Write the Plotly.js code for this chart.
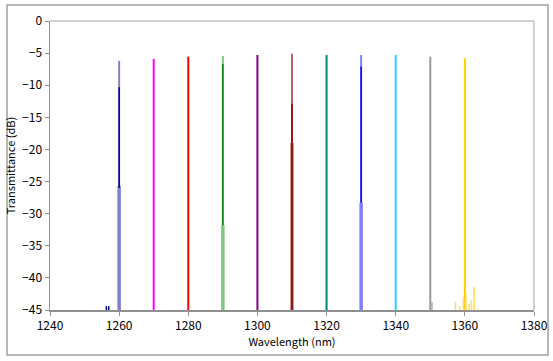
<!DOCTYPE html>
<html><head><meta charset="utf-8">
<script src="https://cdn.plot.ly/plotly-3.0.1.min.js"></script>
<style>html,body{margin:0;padding:0;background:#fff}#chart{width:553px;height:361px}</style>
</head><body><div id="chart"></div>
<script>
// ---- data ----
const channels = [1260, 1270, 1280, 1290, 1300, 1310, 1320, 1330, 1340, 1350, 1360];
const peaks    = [-6.2, -5.9, -5.55, -5.45, -5.3, -5.1, -5.3, -5.3, -5.3, -5.55, -5.8];
const floorVal = -45;
// darker core segments (channel, top, bottom)
const coreChannels = [1260, 1290, 1310, 1330];
const coreTop      = [-10.3, -6.7, -12.9, -7.1];
const coreBottom   = [-26.0, -31.8, -45, -28.3];
// wider pale base segments (channel, top)
const baseChannels = [1260, 1290, 1310, 1330];
const baseTop      = [-25.7, -31.8, -19.0, -28.3];
// small spurious spikes
const spikeX_1260 = [1256.3, 1257.0];
const spikeY_1260 = [-44.4, -44.4];
const spikeX_1350 = [1350.5];
const spikeY_1350 = [-43.8];
const spikeX_1360 = [1357.3, 1358.5, 1359.6, 1360.3, 1361.2, 1361.9, 1362.7, 1363.9];
const spikeY_1360 = [-43.7, -44.4, -43.0, -42.4, -44.0, -43.4, -41.4, -44.8];
const xTicks = [1240, 1260, 1280, 1300, 1320, 1340, 1360, 1380];
const yTicks = [0, -5, -10, -15, -20, -25, -30, -35, -40, -45];

// ---- styles ----
const mainColors = ['#8080c8', '#ff00ff', '#ff0000', '#80c880', '#800080', '#c06060', '#008080', '#8080ff', '#33ccff', '#999999', '#ffcc00'];
const coreColors = {1260: '#000080', 1290: '#008000', 1310: '#800000', 1330: '#0000ff'};
const baseColors = {1260: '#8080c8', 1290: '#80c880', 1310: '#c07070', 1330: '#8080ff'};

const traces = [];
channels.forEach((w, i) => {
  traces.push({x: [w, w], y: [floorVal, peaks[i]], mode: 'lines', type: 'scatter',
    line: {color: mainColors[i], width: 2}, hoverinfo: 'skip', showlegend: false});
});
baseChannels.forEach((w, i) => {
  traces.push({x: [w, w], y: [floorVal, baseTop[i]], mode: 'lines', type: 'scatter',
    line: {color: baseColors[w], width: 3.5}, hoverinfo: 'skip', showlegend: false});
});
coreChannels.forEach((w, i) => {
  traces.push({x: [w, w], y: [coreBottom[i], coreTop[i]], mode: 'lines', type: 'scatter',
    line: {color: coreColors[w], width: 1.5}, hoverinfo: 'skip', showlegend: false});
});
function spikes(xs, ys, color) {
  const X = [], Y = [];
  xs.forEach((x, i) => { X.push(x, x, null); Y.push(floorVal, ys[i], null); });
  traces.push({x: X, y: Y, mode: 'lines', type: 'scatter', line: {color: color, width: 1.5},
    hoverinfo: 'skip', showlegend: false, connectgaps: false});
}
spikes(spikeX_1260, spikeY_1260, '#000080');
spikes(spikeX_1350, spikeY_1350, '#b0b0b0');
spikes(spikeX_1360, spikeY_1360, '#ffd966');

const font = {family: '"Noto Sans CJK JP", "DejaVu Sans", sans-serif', size: 12, color: '#000'};
const layout = {
  width: 553, height: 361,
  margin: {l: 50, r: 19, t: 21, b: 51, pad: 0},
  paper_bgcolor: '#fff', plot_bgcolor: '#fff',
  font: font,
  showlegend: false,
  xaxis: {range: [1240, 1380], tickvals: xTicks, ticktext: xTicks.map(String),
    showgrid: false, zeroline: false, showline: true, linecolor: '#909090', linewidth: 1.5,
    ticks: 'outside', ticklen: 4, tickcolor: '#909090', tickfont: {size: 12},
    title: {text: 'Wavelength (nm)', font: {size: 11}, standoff: 6}},
  yaxis: {range: [-45, 0], tickvals: yTicks,
    showgrid: false, zeroline: false, showline: true, linecolor: '#909090', linewidth: 1.5,
    ticks: 'outside', ticklen: 4, tickcolor: '#909090', tickfont: {size: 12},
    title: {text: 'Transmittance (dB)', font: {size: 11}, standoff: 4}},
  shapes: [
    {type: 'line', xref: 'paper', yref: 'paper', x0: 0, x1: 1, y0: 1, y1: 1, line: {color: '#c0c0c0', width: 1.5}},
    {type: 'line', xref: 'paper', yref: 'paper', x0: 1, x1: 1, y0: 0, y1: 1, line: {color: '#c0c0c0', width: 1.5}},
    {type: 'rect', xref: 'paper', yref: 'paper', x0: -0.0888, x1: 1.029, y0: -0.1557, y1: 1.0554,
      line: {color: '#a0a0a0', width: 1.5}, fillcolor: 'rgba(0,0,0,0)'}
  ]
};
Plotly.newPlot('chart', traces, layout, {displayModeBar: false, staticPlot: true});
</script></body></html>
